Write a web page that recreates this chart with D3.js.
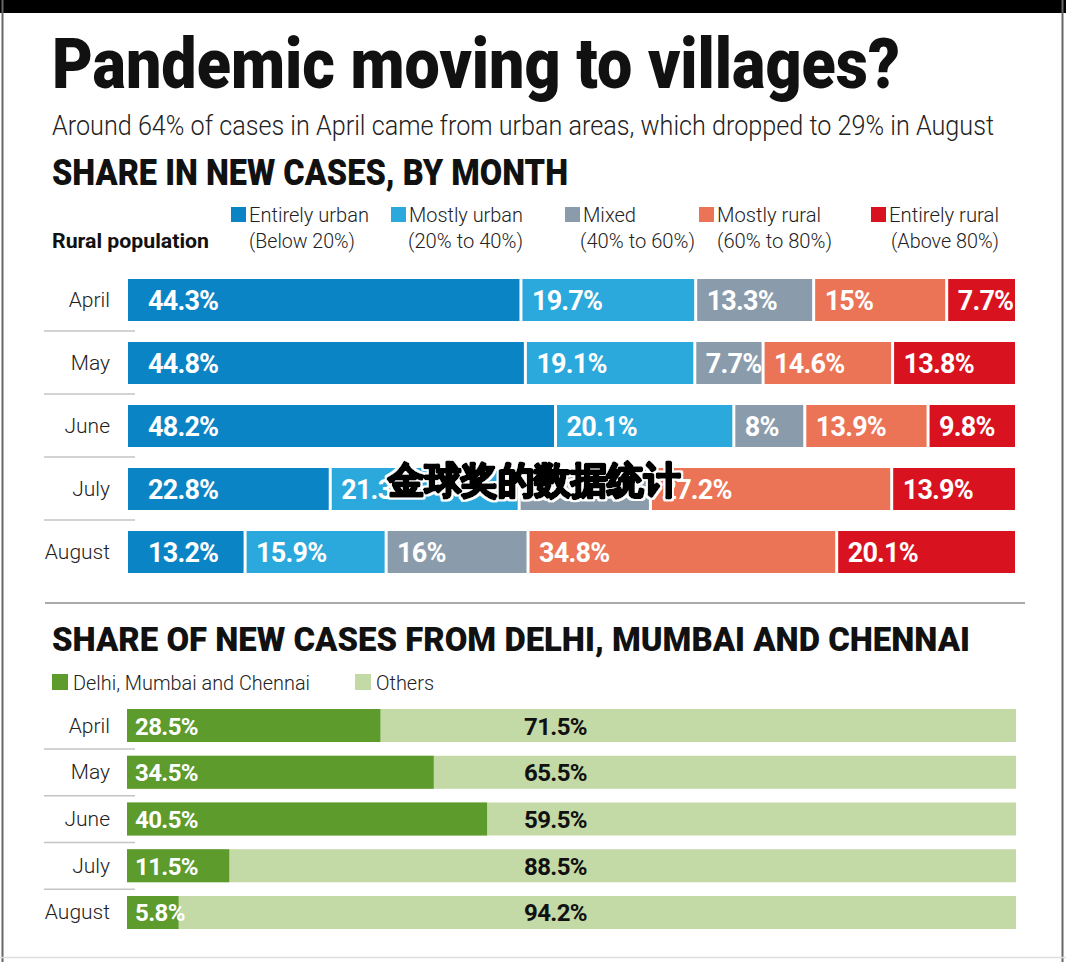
<!DOCTYPE html>
<html>
<head>
<meta charset="utf-8">
<script src="https://cdn.jsdelivr.net/npm/d3@7"></script>
<style>
  html, body { margin: 0; padding: 0; background: #fff; }
  svg { display: block; }
  text { font-family: Roboto, "Noto Sans", "DejaVu Sans", sans-serif; }
</style>
</head>
<body>
<svg id="chart" width="1066" height="962"></svg>
<script>
// ---------- DATA ----------
const months = ["April", "May", "June", "July", "August"];
const ruralCategories = ["Entirely urban", "Mostly urban", "Mixed", "Mostly rural", "Entirely rural"];
const ruralRanges = ["(Below 20%)", "(20% to 40%)", "(40% to 60%)", "(60% to 80%)", "(Above 80%)"];
const entirelyUrban = [44.3, 44.8, 48.2, 22.8, 13.2];
const mostlyUrban   = [19.7, 19.1, 20.1, 21.3, 15.9];
const mixed         = [13.3, 7.7, 8.0, 14.8, 16.0];
const mostlyRural   = [15.0, 14.6, 13.9, 27.2, 34.8];
const entirelyRural = [7.7, 13.8, 9.8, 13.9, 20.1];

const cityCategories = ["Delhi, Mumbai and Chennai", "Others"];
const metroShare  = [28.5, 34.5, 40.5, 11.5, 5.8];
const othersShare = [71.5, 65.5, 59.5, 88.5, 94.2];

const title = "Pandemic moving to villages?";
const subtitle = "Around 64% of cases in April came from urban areas, which dropped to 29% in August";
const heading1 = "SHARE IN NEW CASES, BY MONTH";
const heading2 = "SHARE OF NEW CASES FROM DELHI, MUMBAI AND CHENNAI";
const watermark = "金球奖的数据统计";

// ---------- STYLE ----------
const ruralColors = ["#0b84c6", "#2ba8dc", "#8a9cab", "#ec7456", "#d8121f"];
const cityColors = ["#5c9b2c", "#c3d9a6"];
const fmt = v => (Math.round(v * 10) / 10) + "%";

const svg = d3.select("#chart");

// halo filter for watermark
const defs = svg.append("defs");
const f = defs.append("filter").attr("id", "halo").attr("x", "-5%").attr("y", "-20%").attr("width", "110%").attr("height", "140%");
f.append("feMorphology").attr("in", "SourceAlpha").attr("operator", "dilate").attr("radius", 1.5).attr("result", "thick");
f.append("feFlood").attr("flood-color", "#fff").attr("result", "white");
f.append("feComposite").attr("in", "white").attr("in2", "thick").attr("operator", "in").attr("result", "outline");
const fm = f.append("feMerge");
fm.append("feMergeNode").attr("in", "outline");
fm.append("feMergeNode").attr("in", "SourceGraphic");

// frame
svg.append("rect").attr("x", 0).attr("y", 0).attr("width", 1066).attr("height", 13).attr("fill", "#000");
svg.append("line").attr("x1", 2.5).attr("x2", 2.5).attr("y1", 0).attr("y2", 962).attr("stroke", "#666").attr("stroke-width", 2);
svg.append("line").attr("x1", 1062.5).attr("x2", 1062.5).attr("y1", 0).attr("y2", 962).attr("stroke", "#666").attr("stroke-width", 2);
svg.append("line").attr("x1", 0).attr("x2", 1066).attr("y1", 957.5).attr("y2", 957.5).attr("stroke", "#ddd").attr("stroke-width", 1.5);

// titles
svg.append("text").attr("x", 52).attr("y", 88).text(title)
  .attr("font-size", 70).attr("font-weight", 900).attr("fill", "#111")
  .attr("textLength", 848).attr("lengthAdjust", "spacingAndGlyphs");
svg.append("text").attr("x", 52).attr("y", 135).text(subtitle)
  .attr("font-size", 27).attr("font-weight", 300).attr("fill", "#222")
  .attr("textLength", 942).attr("lengthAdjust", "spacingAndGlyphs");
svg.append("text").attr("x", 52).attr("y", 185).text(heading1)
  .attr("font-size", 36).attr("font-weight", 900).attr("fill", "#111")
  .attr("textLength", 516).attr("lengthAdjust", "spacingAndGlyphs");

// ---------- TOP LEGEND ----------
const legX = d3.scaleOrdinal().domain(ruralCategories).range([231, 391, 565, 699, 871]);
const legRangeX = d3.scaleOrdinal().domain(ruralCategories).range([249, 408, 580, 717, 891]);
const legTextW = [120, 114, 53, 104, 110];
const legRangeW = [106, 115, 115, 115, 108];
svg.append("text").attr("x", 52).attr("y", 248).text("Rural population")
  .attr("font-size", 21).attr("font-weight", 700).attr("fill", "#111")
  .attr("textLength", 157).attr("lengthAdjust", "spacingAndGlyphs");
const leg = svg.append("g").selectAll("g").data(ruralCategories).join("g");
leg.append("rect").attr("x", d => legX(d)).attr("y", 207).attr("width", 15).attr("height", 15)
  .attr("fill", (d, i) => ruralColors[i]);
leg.append("text").attr("x", d => legX(d) + 18).attr("y", 222).text(d => d)
  .attr("font-size", 20).attr("font-weight", 300).attr("fill", "#222")
  .attr("textLength", (d, i) => legTextW[i]).attr("lengthAdjust", "spacingAndGlyphs");
leg.append("text").attr("x", d => legRangeX(d)).attr("y", 248).text((d, i) => ruralRanges[i])
  .attr("font-size", 20).attr("font-weight", 300).attr("fill", "#222")
  .attr("textLength", (d, i) => legRangeW[i]).attr("lengthAdjust", "spacingAndGlyphs");

// ---------- TOP CHART ----------
const x1 = d3.scaleLinear().domain([0, 100]).range([128, 1015]);
const y1 = d3.scaleBand().domain(months).range([279, 573]).paddingInner(1 / 3).paddingOuter(0);
const series = [entirelyUrban, mostlyUrban, mixed, mostlyRural, entirelyRural];
const rows1 = months.map((m, r) => {
  let cum = 0;
  return series.map((s, i) => {
    const seg = { month: m, i, v: s[r], start: cum, end: cum + s[r] };
    cum += s[r];
    return seg;
  });
});

// separators under month labels
svg.append("g").selectAll("line").data(months.slice(0, -1)).join("line")
  .attr("x1", 44).attr("x2", 135)
  .attr("y1", d => y1(d) + y1.bandwidth() + 10).attr("y2", d => y1(d) + y1.bandwidth() + 10)
  .attr("stroke", "#c4c4c4").attr("stroke-width", 1.5);

svg.append("g").selectAll("text").data(months).join("text")
  .attr("x", 110).attr("y", d => y1(d) + y1.bandwidth() / 2 + 7)
  .attr("text-anchor", "end").text(d => d)
  .attr("font-size", 21).attr("font-weight", 300).attr("fill", "#222");

const gRows = svg.append("g").selectAll("g").data(rows1).join("g");
const segs = gRows.selectAll("g").data(d => d).join("g");
const last = series.length - 1;
segs.append("rect")
  .attr("x", d => x1(d.start) + (d.i > 0 ? 1.5 : 0))
  .attr("y", d => y1(d.month))
  .attr("width", d => x1(d.end) - x1(d.start) - (d.i > 0 ? 1.5 : 0) - (d.i < last ? 1.5 : 0))
  .attr("height", y1.bandwidth())
  .attr("fill", d => ruralColors[d.i]);
segs.append("text")
  .attr("x", d => x1(d.start) + (d.i === 0 ? 20 : 11))
  .attr("y", d => y1(d.month) + y1.bandwidth() / 2 + 10)
  .text(d => fmt(d.v))
  .attr("font-family", "'Open Sans', Roboto, sans-serif")
  .attr("font-size", 27).attr("font-weight", 700).attr("fill", "#fff")
  .attr("letter-spacing", -0.8);

// divider
svg.append("line").attr("x1", 45).attr("x2", 1025).attr("y1", 603).attr("y2", 603)
  .attr("stroke", "#aaa").attr("stroke-width", 2);

// ---------- BOTTOM ----------
svg.append("text").attr("x", 52).attr("y", 651).text(heading2)
  .attr("font-size", 34).attr("font-weight", 900).attr("fill", "#111")
  .attr("textLength", 918).attr("lengthAdjust", "spacingAndGlyphs");

const leg2X = d3.scaleOrdinal().domain(cityCategories).range([52, 355]);
const leg2W = [237, 58];
const leg2 = svg.append("g").selectAll("g").data(cityCategories).join("g");
leg2.append("rect").attr("x", d => leg2X(d)).attr("y", 674).attr("width", 16).attr("height", 16)
  .attr("fill", (d, i) => cityColors[i]);
leg2.append("text").attr("x", d => leg2X(d) + 21).attr("y", 690).text(d => d)
  .attr("font-size", 21).attr("font-weight", 300).attr("fill", "#222")
  .attr("textLength", (d, i) => leg2W[i]).attr("lengthAdjust", "spacingAndGlyphs");

const x2 = d3.scaleLinear().domain([0, 100]).range([127, 1016]);
const y2 = d3.scaleBand().domain(months).range([709, 929]).paddingInner(0.294).paddingOuter(0);

svg.append("g").selectAll("line").data(months.slice(0, -1)).join("line")
  .attr("x1", 44).attr("x2", 135)
  .attr("y1", d => y2(d) + y2.bandwidth() + 7).attr("y2", d => y2(d) + y2.bandwidth() + 7)
  .attr("stroke", "#c4c4c4").attr("stroke-width", 1.5);

svg.append("g").selectAll("text").data(months).join("text")
  .attr("x", 110).attr("y", d => y2(d) + y2.bandwidth() / 2 + 7)
  .attr("text-anchor", "end").text(d => d)
  .attr("font-size", 21).attr("font-weight", 300).attr("fill", "#222");

const rows2 = months.map((m, r) => ({ month: m, a: metroShare[r], b: othersShare[r] }));
const g2 = svg.append("g").selectAll("g").data(rows2).join("g");
g2.append("rect").attr("x", x2(0)).attr("y", d => y2(d.month))
  .attr("width", d => x2(100) - x2(0)).attr("height", y2.bandwidth()).attr("fill", cityColors[1]);
g2.append("rect").attr("x", x2(0)).attr("y", d => y2(d.month))
  .attr("width", d => x2(d.a) - x2(0)).attr("height", y2.bandwidth()).attr("fill", cityColors[0]);
g2.append("text").attr("x", x2(0) + 8).attr("y", d => y2(d.month) + y2.bandwidth() / 2 + 9)
  .text(d => fmt(d.a))
  .attr("font-family", "'Open Sans', Roboto, sans-serif")
  .attr("font-size", 24).attr("font-weight", 700).attr("fill", "#fff").attr("letter-spacing", -0.6);
g2.append("text").attr("x", 524).attr("y", d => y2(d.month) + y2.bandwidth() / 2 + 9)
  .text(d => fmt(d.b))
  .attr("font-family", "'Open Sans', Roboto, sans-serif")
  .attr("font-size", 24).attr("font-weight", 700).attr("fill", "#111").attr("letter-spacing", -0.6);

// watermark overlay (heavy black, thin white halo)
svg.append("text").attr("x", 388).attr("y", 493).text(watermark)
  .attr("font-family", "'Noto Sans CJK SC', sans-serif")
  .attr("font-size", 37).attr("font-weight", 900).attr("fill", "#000")
  .attr("stroke", "#000").attr("stroke-width", 3).attr("stroke-linejoin", "round")
  .attr("filter", "url(#halo)")
  .attr("textLength", 292).attr("lengthAdjust", "spacingAndGlyphs");
</script>
</body>
</html>
